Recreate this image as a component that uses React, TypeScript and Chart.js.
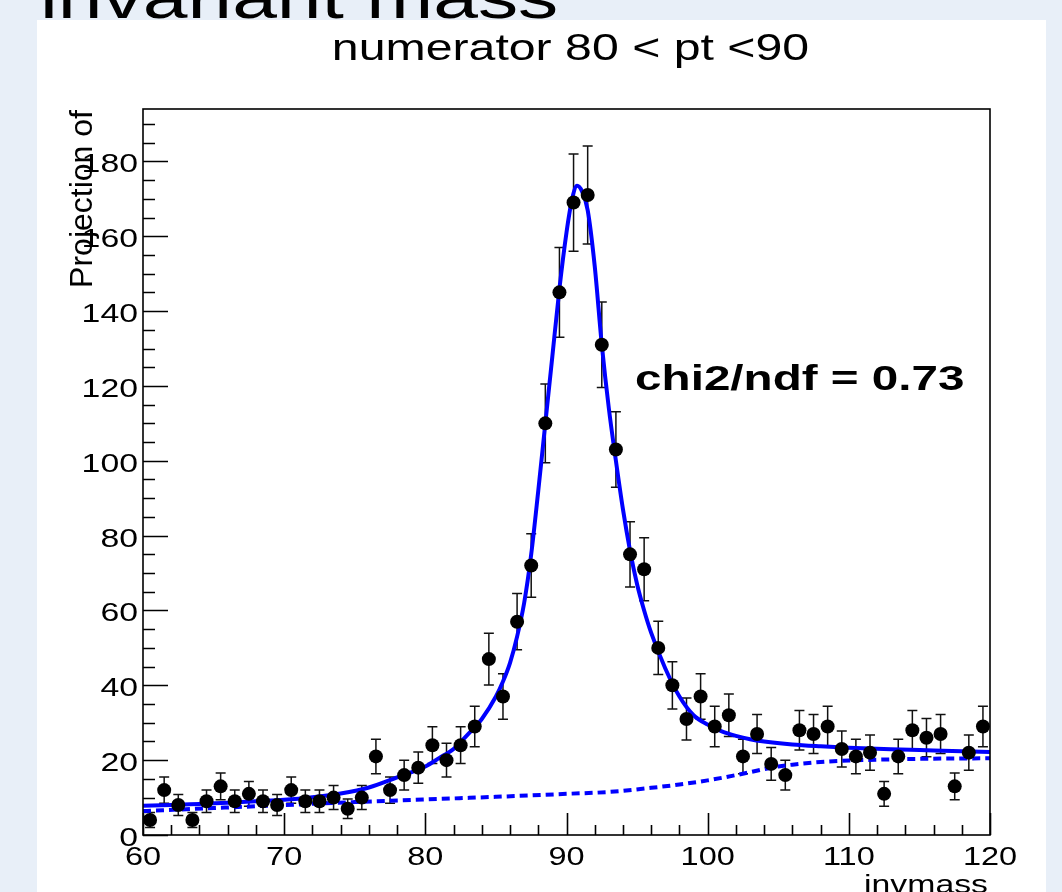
import React, { useEffect, useRef } from "react";
import { Chart, registerables } from "chart.js";

Chart.register(...registerables);

// ---------- data ----------
const binCenters = [
  60.5, 61.5, 62.5, 63.5, 64.5, 65.5, 66.5, 67.5, 68.5, 69.5,
  70.5, 71.5, 72.5, 73.5, 74.5, 75.5, 76.5, 77.5, 78.5, 79.5,
  80.5, 81.5, 82.5, 83.5, 84.5, 85.5, 86.5, 87.5, 88.5, 89.5,
  90.5, 91.5, 92.5, 93.5, 94.5, 95.5, 96.5, 97.5, 98.5, 99.5,
  100.5, 101.5, 102.5, 103.5, 104.5, 105.5, 106.5, 107.5, 108.5, 109.5,
  110.5, 111.5, 112.5, 113.5, 114.5, 115.5, 116.5, 117.5, 118.5, 119.5,
];
const counts = [
  4, 12, 8, 4, 9, 13, 9, 11, 9, 8,
  12, 9, 9, 10, 7, 10, 21, 12, 16, 18,
  24, 20, 24, 29, 47, 37, 57, 72, 110, 145,
  169, 171, 131, 103, 75, 71, 50, 40, 31, 37,
  29, 32, 21, 27, 19, 16, 28, 27, 29, 23,
  21, 22, 11, 21, 28, 26, 27, 13, 22, 29,
];
const countErrors = [
  2.0, 3.5, 2.8, 2.0, 3.0, 3.6, 3.0, 3.3, 3.0, 2.8,
  3.5, 3.0, 3.0, 3.2, 2.6, 3.2, 4.6, 3.5, 4.0, 4.2,
  4.9, 4.5, 4.9, 5.4, 6.9, 6.1, 7.5, 8.5, 10.5, 12.0,
  13.0, 13.1, 11.4, 10.1, 8.7, 8.4, 7.1, 6.3, 5.6, 6.1,
  5.4, 5.7, 4.6, 5.2, 4.4, 4.0, 5.3, 5.2, 5.4, 4.8,
  4.6, 4.7, 3.3, 4.6, 5.3, 5.1, 5.2, 3.6, 4.7, 5.4,
];

// total fit curve (signal + background)
const fitX = [
  60, 62, 64, 66, 68, 70, 72, 74, 76, 78,
  80, 81, 82, 83, 84, 85, 85.5, 86, 86.5, 87,
  87.5, 88, 88.5, 89, 89.5, 90, 90.4, 90.75, 91.1, 91.5,
  92, 92.5, 93, 93.5, 94, 94.5, 95, 95.5, 96, 97,
  98, 99, 100, 101, 102, 103, 104, 106, 108, 110,
  113, 116, 120,
];
const fitY = [
  7.8, 8.0, 8.3, 8.6, 9.0, 9.4, 10.1, 11.1, 12.7, 15.4,
  18.3, 20.6, 23.0, 26.8, 31.0, 37.0, 41.0, 46.0, 53.0, 62.0,
  75.0, 92.0, 110.0, 128.0, 146.0, 161.0, 170.0, 173.5, 172.0, 167.0,
  152.0, 131.0, 114.0, 100.0, 87.0, 76.0, 67.0, 60.0, 54.0, 44.5,
  37.0, 32.0, 29.5, 27.7, 26.5, 25.6, 25.0, 24.2, 23.7, 23.3,
  22.9, 22.6, 22.2,
];

// background component of the fit
const bkgX = [60, 65, 70, 75, 80, 85, 90, 93, 96, 98, 100, 102, 104, 105, 106, 108, 110, 113, 116, 120];
const bkgY = [6.4, 7.2, 8.0, 8.8, 9.5, 10.2, 11.0, 11.5, 12.6, 13.5, 14.6, 16.0, 17.6, 18.3, 18.8, 19.5, 19.9, 20.2, 20.4, 20.5];

const xTickValues = [60, 70, 80, 90, 100, 110, 120];
const yTickValues = [0, 20, 40, 60, 80, 100, 120, 140, 160, 180];
const xMinorStep = 2;
const yMinorStep = 5;
const xRange = [60, 120];
const yRange = [0, 194];

const pageTitle = "invariant mass";
const histTitle = "numerator 80 < pt <90";
const xAxisTitle = "invmass";
const yAxisTitle = "Projection of";
const fitLabel = "chi2/ndf = 0.73";

// ---------- drawing helpers ----------
const FONT = '"Liberation Sans", Arial, Helvetica, sans-serif';

function drawText(
  ctx: CanvasRenderingContext2D,
  text: string,
  x: number,
  y: number,
  font: string,
  sx: number,
  align: "left" | "center" | "right"
) {
  ctx.save();
  ctx.font = font;
  ctx.textBaseline = "alphabetic";
  ctx.textAlign = "left";
  const w = ctx.measureText(text).width * sx;
  let left = x;
  if (align === "center") left = x - w / 2;
  else if (align === "right") left = x - w;
  ctx.translate(left, y);
  ctx.scale(sx, 1);
  ctx.fillStyle = "#000";
  ctx.fillText(text, 0, 0);
  ctx.restore();
}

const rootStyle = {
  id: "rootStyle",
  beforeDraw(chart: any) {
    const ctx: CanvasRenderingContext2D = chart.ctx;
    const W = chart.width;
    const H = chart.height;
    ctx.save();
    ctx.fillStyle = "#e8eff8";
    ctx.fillRect(0, 0, W, H);
    ctx.fillStyle = "#ffffff";
    ctx.fillRect(37, 20, 1009, H - 20);
    ctx.restore();
    drawText(ctx, pageTitle, 40, 18, `60px ${FONT}`, 1.34, "left");
    const a = chart.chartArea;
    drawText(ctx, histTitle, (a.left + a.right) / 2 + 4, 60, `36px ${FONT}`, 1.34, "center");
  },
  beforeDatasetsDraw(chart: any) {
    const ctx: CanvasRenderingContext2D = chart.ctx;
    const xs = chart.scales.x;
    const ys = chart.scales.y;
    const a = chart.chartArea;
    ctx.save();
    ctx.beginPath();
    ctx.rect(a.left, a.top, a.right - a.left, a.bottom - a.top);
    ctx.clip();
    ctx.strokeStyle = "#111";
    ctx.lineWidth = 1.5;
    for (let i = 0; i < counts.length; i++) {
      const px = xs.getPixelForValue(binCenters[i]);
      const top = ys.getPixelForValue(counts[i] + countErrors[i]);
      const bot = ys.getPixelForValue(Math.max(0, counts[i] - countErrors[i]));
      ctx.beginPath();
      ctx.moveTo(px, top);
      ctx.lineTo(px, bot);
      ctx.moveTo(px - 5, top);
      ctx.lineTo(px + 5, top);
      ctx.moveTo(px - 5, bot);
      ctx.lineTo(px + 5, bot);
      ctx.stroke();
    }
    ctx.restore();
  },
  afterDatasetsDraw(chart: any) {
    const ctx: CanvasRenderingContext2D = chart.ctx;
    const xs = chart.scales.x;
    const ys = chart.scales.y;
    const a = chart.chartArea;
    ctx.save();
    ctx.strokeStyle = "#000";
    ctx.lineWidth = 1.6;
    ctx.strokeRect(a.left, a.top, a.right - a.left, a.bottom - a.top);

    // y ticks (inside)
    ctx.beginPath();
    for (let v = yRange[0]; v <= yRange[1] + 1e-9; v += yMinorStep) {
      const py = Math.round(ys.getPixelForValue(v)) + 0.5;
      const major = yTickValues.includes(v);
      ctx.moveTo(a.left, py);
      ctx.lineTo(a.left + (major ? 25 : 12), py);
    }
    // x ticks (inside)
    for (let v = xRange[0]; v <= xRange[1] + 1e-9; v += xMinorStep) {
      const px = Math.round(xs.getPixelForValue(v)) + 0.5;
      const major = xTickValues.includes(v);
      ctx.moveTo(px, a.bottom);
      ctx.lineTo(px, a.bottom - (major ? 22 : 10));
    }
    ctx.stroke();
    ctx.restore();

    // tick labels
    for (const t of ys.ticks) {
      const py = ys.getPixelForValue(t.value);
      drawText(ctx, String(t.value), a.left - 5, py + 11, `26px ${FONT}`, 1.3, "right");
    }
    for (const t of xs.ticks) {
      const px = xs.getPixelForValue(t.value);
      drawText(ctx, String(t.value), px, a.bottom + 30, `25px ${FONT}`, 1.3, "center");
    }

    // axis titles
    drawText(ctx, xAxisTitle, a.right - 2, a.bottom + 58, `26px ${FONT}`, 1.3, "right");
    ctx.save();
    ctx.translate(92, a.top + 1);
    ctx.rotate(-Math.PI / 2);
    ctx.font = `32px ${FONT}`;
    ctx.textAlign = "right";
    ctx.textBaseline = "alphabetic";
    ctx.fillStyle = "#000";
    ctx.fillText(yAxisTitle, 0, 0);
    ctx.restore();

    // fit quality label
    const lx = a.left + 0.581 * (a.right - a.left);
    const ly = a.top + 0.387 * (a.bottom - a.top);
    drawText(ctx, fitLabel, lx, ly, `bold 35px ${FONT}`, 1.36, "left");
  },
};

export default function App() {
  const ref = useRef<HTMLCanvasElement | null>(null);

  useEffect(() => {
    const canvas = ref.current;
    if (!canvas) return;
    const chart = new Chart(canvas, {
      type: "scatter",
      data: {
        datasets: [
          {
            type: "line",
            label: "fit",
            data: fitX.map((x, i) => ({ x, y: fitY[i] })),
            borderColor: "#0000ff",
            borderWidth: 4,
            pointRadius: 0,
            cubicInterpolationMode: "monotone",
            fill: false,
            order: 2,
          } as any,
          {
            type: "line",
            label: "background",
            data: bkgX.map((x, i) => ({ x, y: bkgY[i] })),
            borderColor: "#0000ff",
            borderWidth: 4,
            borderDash: [8, 5],
            pointRadius: 0,
            cubicInterpolationMode: "monotone",
            fill: false,
            order: 1,
          } as any,
          {
            type: "scatter",
            label: "data",
            data: binCenters.map((x, i) => ({ x, y: counts[i] })),
            pointRadius: 7,
            pointBackgroundColor: "#000",
            pointBorderColor: "#000",
            pointBorderWidth: 0,
            showLine: false,
            order: 0,
          } as any,
        ],
      },
      options: {
        responsive: false,
        animation: false,
        events: [],
        layout: { padding: { top: 109, right: 72, left: 0, bottom: 0 } },
        plugins: {
          legend: { display: false },
          tooltip: { enabled: false },
          title: { display: false },
        },
        scales: {
          x: {
            type: "linear",
            min: xRange[0],
            max: xRange[1],
            grid: { display: false },
            border: { display: false },
            ticks: { display: false },
            afterBuildTicks: (s: any) => {
              s.ticks = xTickValues.map((value) => ({ value }));
            },
            afterFit: (s: any) => {
              s.height = 57;
            },
          },
          y: {
            type: "linear",
            min: yRange[0],
            max: yRange[1],
            grid: { display: false },
            border: { display: false },
            ticks: { display: false },
            afterBuildTicks: (s: any) => {
              s.ticks = yTickValues.map((value) => ({ value }));
            },
            afterFit: (s: any) => {
              s.width = 143;
            },
          },
        },
      } as any,
      plugins: [rootStyle],
    });
    return () => chart.destroy();
  }, []);

  return (
    <div style={{ position: "fixed", left: 0, top: 0, width: 1062, height: 892 }}>
      <canvas ref={ref} width={1062} height={892} style={{ display: "block", width: 1062, height: 892 }} />
    </div>
  );
}
